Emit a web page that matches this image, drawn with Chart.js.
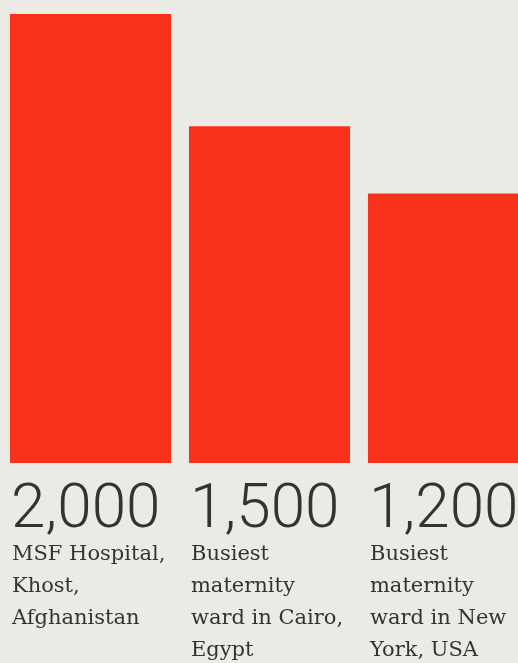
<!DOCTYPE html>
<html>
<head>
<meta charset="utf-8">
<script src="https://cdn.jsdelivr.net/npm/chart.js@4/dist/chart.umd.min.js"></script>
<style>
  html, body { margin: 0; padding: 0; background: #ebebe6; overflow: hidden; }
  #wrap { width: 540px; height: 663px; position: relative; }
</style>
</head>
<body>
<div id="wrap"><canvas id="births"></canvas></div>
<script>
/* ── Data ─────────────────────────────────────────────────────────────── */
const places = ["MSF Hospital", "Cairo", "New York"];
const births = [2000, 1500, 1200];
const valueLabels = ["2,000", "1,500", "1,200"];
const captions = [
  ["MSF Hospital,", "Khost,", "Afghanistan"],
  ["Busiest", "maternity", "ward in Cairo,", "Egypt"],
  ["Busiest", "maternity", "ward in New", "York, USA"]
];

/* ── Labels drawn under each bar ──────────────────────────────────────── */
const captionPlugin = {
  id: "captions",
  afterDatasetsDraw(chart) {
    const ctx = chart.ctx;
    const meta = chart.getDatasetMeta(0);
    const base = chart.scales.y.getPixelForValue(0);
    ctx.save();
    ctx.fillStyle = "#333333";
    ctx.textAlign = "left";
    ctx.textBaseline = "alphabetic";
    meta.data.forEach((bar, i) => {
      const left = bar.x - bar.width / 2 + 1;
      ctx.font = '300 62px Roboto';
      ctx.fillText(valueLabels[i], left, base + 64);
      ctx.font = '21px "DejaVu Serif"';
      captions[i].forEach((line, j) => {
        ctx.fillText(line, left + 1, base + 97 + j * 32);
      });
    });
    ctx.restore();
  }
};

new Chart(document.getElementById("births"), {
  type: "bar",
  data: {
    labels: places,
    datasets: [{
      data: births,
      backgroundColor: "#f8321a",
      borderWidth: 0,
      barPercentage: 0.9,
      categoryPercentage: 1
    }]
  },
  options: {
    responsive: true,
    maintainAspectRatio: false,
    animation: false,
    layout: { padding: { left: 1, right: 2, top: 14, bottom: 200 } },
    plugins: { legend: { display: false }, tooltip: { enabled: false } },
    scales: {
      x: { display: false },
      y: { display: false, min: 0, max: 2000 }
    }
  },
  plugins: [captionPlugin]
});
</script>
</body>
</html>
